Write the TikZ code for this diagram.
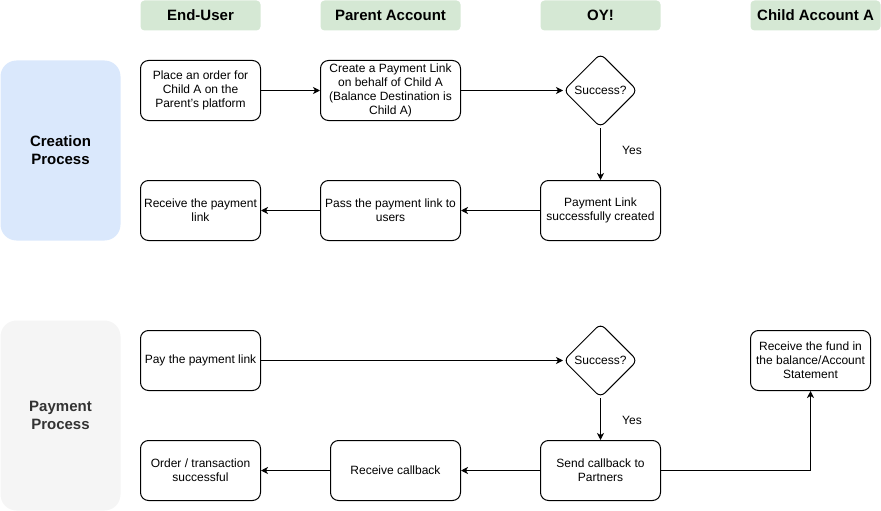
\documentclass[tikz,border=0pt]{standalone}
\usepackage{fontspec}
\setmainfont{Liberation Sans}
\usetikzlibrary{shapes.geometric,arrows.meta}
\definecolor{hdrgreen}{HTML}{D5E8D4}
\definecolor{procblue}{HTML}{DAE8FC}
\definecolor{procgray}{HTML}{F5F5F5}
\definecolor{proctext}{HTML}{333333}
\begin{document}
\begin{tikzpicture}[x=1pt,y=-1pt,
  hdr/.style={fill=hdrgreen,rounded corners=4pt,minimum width=#1,minimum height=30pt,inner sep=0pt,font=\fontsize{15}{18}\selectfont\bfseries},
  proc/.style={rounded corners=16pt,minimum width=120pt,inner sep=0pt,align=center,font=\fontsize{15}{18}\selectfont\bfseries},
  box/.style={draw,line width=1pt,rounded corners=8pt,minimum width=#1,minimum height=60pt,inner sep=1pt,align=center,font=\fontsize{12}{14}\selectfont},
  box/.default=120pt,
  dia/.style={draw,line width=1pt,diamond,rounded corners=6pt,minimum width=74pt,minimum height=74pt,inner sep=0pt,font=\fontsize{12}{14}\selectfont},
  conn/.style={line width=1pt,-{Stealth[length=7pt,width=7pt,inset=2pt]}},
  lbl/.style={font=\fontsize{12}{14}\selectfont}
]
\useasboundingbox (0,0) rectangle (881,511);
% headers
\node[hdr=120pt] (h1) at (200.5,15.5) {End-User};
\node[hdr=140pt] (h2) at (390.5,15.5) {Parent Account};
\node[hdr=120pt] (h3) at (600.5,15.5) {OY!};
\node[hdr=130pt] (h4) at (815.5,15.5) {Child Account A};
% process labels
\node[proc,fill=procblue,minimum height=180pt] (p1) at (60.5,150.5) {Creation\\Process};
\node[proc,fill=procgray,text=proctext,minimum height=190pt] (p2) at (60.5,415.5) {Payment\\Process};
% creation process
\node[box] (a1) at (200.5,90.5) {Place an order for\\Child A on the\\Parent's platform};
\node[box=140pt] (a2) at (390.5,90.5) {Create a Payment Link\\on behalf of Child A\\(Balance Destination is\\Child A)};
\node[dia] (d1) at (600.5,90.5) {Success?};
\node[box] (a3) at (200.5,210.5) {Receive the payment\\link};
\node[box=140pt] (a4) at (390.5,210.5) {Pass the payment link to\\users};
\node[box] (a5) at (600.5,210.5) {Payment Link\\successfully created};
% payment process
\node[box] (b1) at (200.5,360.5) {Pay the payment link};
\node[dia] (d2) at (600.5,360.5) {Success?};
\node[box] (b5) at (810.5,360.5) {Receive the fund in\\the balance/Account\\Statement};
\node[box] (b2) at (200.5,470.5) {Order / transaction\\successful};
\node[box=130pt] (b3) at (395.5,470.5) {Receive callback};
\node[box] (b4) at (600.5,470.5) {Send callback to\\Partners};
% labels
\node[lbl] (y1) at (632,150) {Yes};
\node[lbl] (y2) at (632,420) {Yes};
% connectors
\draw[conn] (a1) -- (a2);
\draw[conn] (a2) -- (d1);
\draw[conn] (d1) -- (a5);
\draw[conn] (a5) -- (a4);
\draw[conn] (a4) -- (a3);
\draw[conn] (b1) -- (d2);
\draw[conn] (d2) -- (b4);
\draw[conn] (b4) -- (b3);
\draw[conn] (b3) -- (b2);
\draw[conn] (b4.east) -| (b5.south);
\end{tikzpicture}
\end{document}
